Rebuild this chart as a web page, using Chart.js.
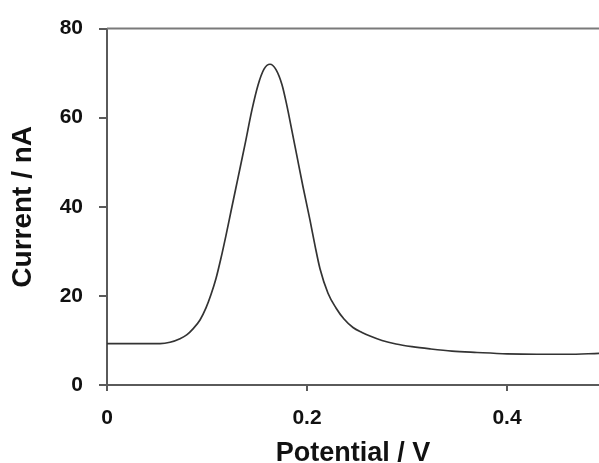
<!DOCTYPE html>
<html>
<head>
<meta charset="utf-8">
<script src="https://cdn.jsdelivr.net/npm/chart.js@4.4.1/dist/chart.umd.min.js"></script>
<style>
  html,body{margin:0;padding:0;background:#fff;}
  #wrap{width:599px;height:463px;position:relative;}
</style>
</head>
<body>
<div id="wrap"><canvas id="c"></canvas></div>
<script>
// values
const potential = [0, 0.02, 0.04, 0.053, 0.063, 0.073, 0.08, 0.086, 0.093, 0.099, 0.104, 0.109, 0.114, 0.119, 0.124, 0.131, 0.138, 0.145, 0.151, 0.157, 0.163, 0.169, 0.175, 0.18, 0.185, 0.19, 0.196, 0.203, 0.208, 0.213, 0.221, 0.229, 0.237, 0.246, 0.255, 0.263, 0.275, 0.289, 0.305, 0.323, 0.345, 0.37, 0.4, 0.43, 0.46, 0.492];
const current   = [9.3, 9.3, 9.3, 9.3, 9.6, 10.4, 11.3, 12.6, 14.6, 17.3, 20.3, 23.9, 28.5, 33.6, 39.0, 46.5, 54.0, 61.8, 67.3, 70.9, 72.0, 70.8, 67.4, 62.6, 57.0, 51.3, 44.5, 37.0, 31.3, 26.1, 20.6, 17.3, 14.8, 12.9, 11.8, 11.0, 10.0, 9.2, 8.6, 8.1, 7.6, 7.3, 7.0, 6.9, 6.9, 7.1];
const xTicks = [0, 0.2, 0.4];
const yTicks = [0, 20, 40, 60, 80];

const axisColor = '#5a5a5a';

// top frame line of the plot box
const topFrame = {
  id:'topFrame',
  afterDraw(chart){
    const a = chart.chartArea, ctx = chart.ctx;
    ctx.save();
    ctx.strokeStyle = '#7a7a7a'; ctx.lineWidth = 2;
    ctx.beginPath(); ctx.moveTo(a.left, a.top); ctx.lineTo(a.right + 2, a.top); ctx.stroke();
    ctx.restore();
  }
};

new Chart(document.getElementById('c').getContext('2d'), {
  type:'scatter',
  data:{datasets:[{
    data: potential.map((p,i)=>({x:p, y:current[i]})),
    showLine:true, pointRadius:0, borderColor:'#333', borderWidth:1.7,
    cubicInterpolationMode:'monotone', fill:false
  }]},
  options:{
    responsive:true, maintainAspectRatio:false, animation:false,
    layout:{padding:{top:23, right:0, bottom:-10, left:0}},
    plugins:{legend:{display:false}, tooltip:{enabled:false}},
    scales:{
      x:{
        type:'linear', min:0, max:0.492,
        afterBuildTicks: s => { s.ticks = xTicks.map(v=>({value:v})); },
        afterFit: s => { s.height = 88; },
        border:{display:true, color:axisColor, width:2},
        grid:{display:true, drawOnChartArea:false, drawTicks:true, tickLength:6, color:axisColor, lineWidth:2},
        ticks:{padding:15, color:'#111', font:{family:'Liberation Sans, Arial, sans-serif', size:21, weight:'bold'},
               callback: v => String(v), maxRotation:0},
        title:{display:true, text:'Potential / V', color:'#111', padding:{top:0,bottom:3},
               font:{family:'Liberation Sans, Arial, sans-serif', size:27, weight:'bold'}}
      },
      y:{
        type:'linear', min:0, max:80,
        afterBuildTicks: s => { s.ticks = yTicks.map(v=>({value:v})); },
        afterFit: s => { s.width = 107; },
        border:{display:true, color:axisColor, width:2},
        grid:{display:true, drawOnChartArea:false, drawTicks:true, tickLength:8, color:axisColor, lineWidth:2},
        ticks:{padding:16, color:'#111', font:{family:'Liberation Sans, Arial, sans-serif', size:21, weight:'bold'}},
        title:{display:true, text:'Current / nA', color:'#111', padding:{top:6,bottom:0},
               font:{family:'Liberation Sans, Arial, sans-serif', size:28, weight:'bold'}}
      }
    }
  },
  plugins:[topFrame]
});
</script>
</body>
</html>
